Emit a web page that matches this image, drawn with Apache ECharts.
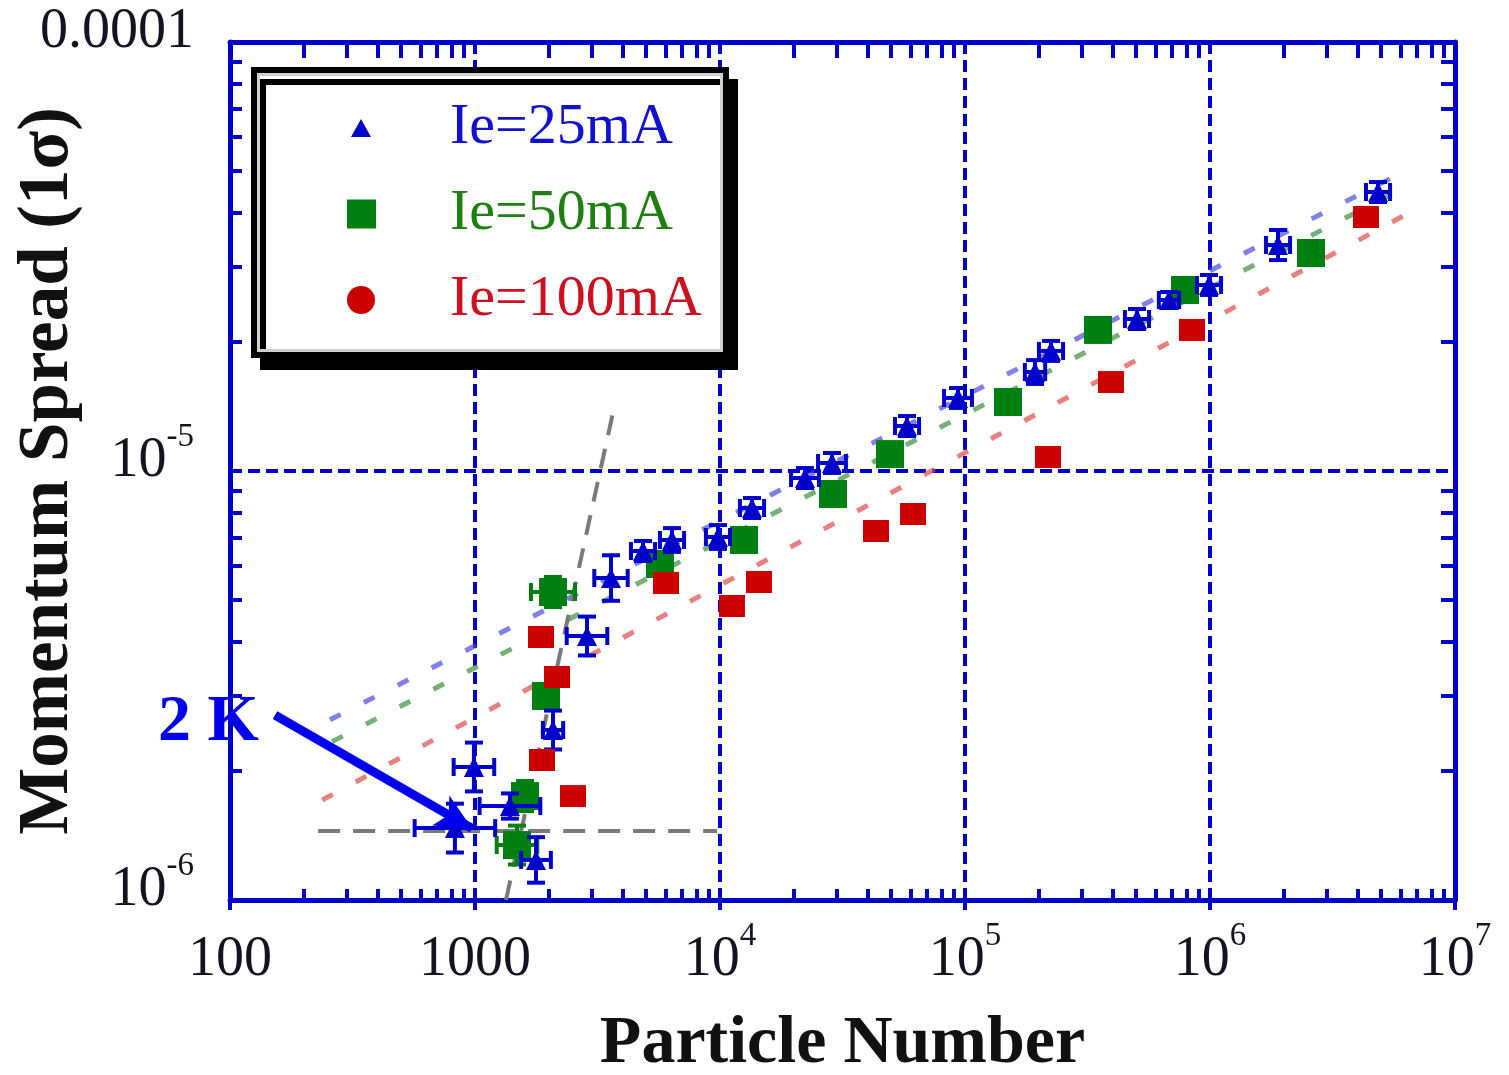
<!DOCTYPE html>
<html>
<head>
<meta charset="utf-8">
<title>Momentum spread vs particle number</title>
<script src="https://cdn.jsdelivr.net/npm/echarts@6/dist/echarts.min.js"></script>
<style>
  html, body { margin: 0; padding: 0; background: #ffffff; }
  #chart { width: 1509px; height: 1075px; }
</style>
</head>
<body>
<div id="chart"></div>
<script>
// ---- measured data -------------------------------------------------------
// Ie = 25 mA : particle number, momentum spread (1 sigma), error factors
const n25 = [828, 990, 1389, 1774, 2082, 2865, 3590, 4850, 6370, 9813, 13510, 22230, 28650,
             57990, 93630, 193100, 224400, 503500, 680200, 990600, 1895000, 4850000];
const dp25 = [1.471e-6, 2.042e-6, 1.656e-6, 1.240e-6, 2.490e-6, 4.124e-6, 5.630e-6, 6.509e-6,
              6.905e-6, 7.017e-6, 8.200e-6, 9.63e-6, 1.044e-5, 1.273e-5, 1.480e-5, 1.701e-5,
              1.905e-5, 2.261e-5, 2.504e-5, 2.714e-5, 3.363e-5, 4.470e-5];
const nErr25 = [1.46, 1.21, 1.33, 1.15, 1.10, 1.21, 1.17, 1.12, 1.12, 1.12, 1.12, 1.14, 1.14,
                1.12, 1.14, 1.10, 1.12, 1.12, 1.10, 1.12, 1.12, 1.12];
const dpErr25 = [1.14, 1.14, 1.07, 1.13, 1.11, 1.11, 1.13, 1.055, 1.066, 1.066, 1.055, 1.055, 1.055,
                 1.055, 1.055, 1.066, 1.055, 1.055, 1.044, 1.055, 1.084, 1.055];

// Ie = 50 mA
const n50 = [1484, 1600, 1949, 2082, 5690, 12530, 28920, 49410, 149800, 349100, 790700, 2584000];
const dp50 = [1.343e-6, 1.747e-6, 2.989e-6, 5.222e-6, 6.070e-6, 6.905e-6, 8.841e-6, 1.095e-5,
              1.448e-5, 2.132e-5, 2.642e-5, 3.222e-5];
const nErr50 = [1.21, 1.0, 1.0, 1.23, 1.0, 1.0, 1.0, 1.0, 1.0, 1.0, 1.0, 1.0];
const dpErr50 = [1.11, 1.084, 1.0, 1.084, 1.0, 1.0, 1.0, 1.0, 1.0, 1.0, 1.0, 1.0];

// Ie = 100 mA
const n100 = [1859, 1877, 2161, 2512, 6020, 11190, 14430, 43320, 61360, 218200, 394400, 844300, 4331000];
const dp100 = [4.103e-6, 2.120e-6, 3.310e-6, 1.747e-6, 5.481e-6, 4.845e-6, 5.512e-6, 7.246e-6,
               7.94e-6, 1.078e-5, 1.612e-5, 2.132e-5, 3.909e-5];

// power-law fits (end points of each dotted line)
const fitN25 = [256, 6430000];   const fitDp25 = [2.63e-6, 5.04e-5];
const fitN50 = [261, 6250000];   const fitDp50 = [2.34e-6, 4.59e-5];
const fitN100 = [238, 6250000];  const fitDp100 = [1.71e-6, 3.95e-5];

// guide lines: steep ordering branch and the 2 K floor
const guideN = [1338, 3693];     const guideDp = [1.0e-6, 1.402e-5];
const floorN = [229, 9723];      const floorDp = [1.448e-6, 1.448e-6];

// annotation arrow (tail, head centre)
const arrowTail = [152.7, 2.698e-6];
const arrowHead = [972, 1.468e-6];

// axis tick labels
const xTickExp = [2, 3, 4, 5, 6, 7];
const xTickText = ['100', '1000', '10^4', '10^5', '10^6', '10^7'];
const yTickExp = [-6, -5, -4];
const yTickText = ['10^-6', '10^-5', '0.0001'];

const seriesNames = ['Ie=25mA', 'Ie=50mA', 'Ie=100mA'];

// ---- styling ---------------------------------------------------------------
const AXIS_BLUE = '#0000cd';
const C25 = '#0000cc';
const C50 = '#008010';
const C100 = '#cc0000';
const SERIF = '"Liberation Serif", "Times New Roman", serif';
const LABEL_COLOR = '#141420';

// minor tick positions 2..9 within each decade
function minorTicks(fromExp, toExp) {
  const out = [];
  for (let e = fromExp; e < toExp; e++) {
    for (let k = 2; k <= 9; k++) out.push(+(k * Math.pow(10, e)).toPrecision(6));
  }
  return out;
}
const xMinor = minorTicks(2, 7);
const yMinor = minorTicks(-6, -4);

function pairs(a, b) { return a.map((v, i) => [v, b[i]]); }
function quads(a, b, c, d) { return a.map((v, i) => [v, b[i], c[i], d[i]]); }

function richTick(t) {
  if (t.indexOf('^') >= 0) {
    const p = t.split('^');
    return '{b|' + p[0] + '}{s|' + p[1] + '}';
  }
  return '{b|' + t + '}';
}
const tickRich = {
  b: { fontFamily: SERIF, fontSize: 56, lineHeight: 80, color: LABEL_COLOR },
  s: { fontFamily: SERIF, fontSize: 33, lineHeight: 33, padding: [0, 0, 47, 0], color: LABEL_COLOR }
};

// error bars with end caps, drawn through the axis scales
function errorBars(params, api) {
  const x = api.value(0), y = api.value(1), fx = api.value(2), fy = api.value(3);
  const color = api.visual('color');
  const st = { stroke: color, lineWidth: 4 };
  const cap = 9;
  const kids = [];
  if (fx > 1) {
    const l = api.coord([x / fx, y]), r = api.coord([x * fx, y]);
    kids.push({ type: 'line', shape: { x1: l[0], y1: l[1], x2: r[0], y2: r[1] }, style: st });
    kids.push({ type: 'line', shape: { x1: l[0], y1: l[1] - cap, x2: l[0], y2: l[1] + cap }, style: st });
    kids.push({ type: 'line', shape: { x1: r[0], y1: r[1] - cap, x2: r[0], y2: r[1] + cap }, style: st });
  }
  if (fy > 1) {
    const t = api.coord([x, y * fy]), b = api.coord([x, y / fy]);
    kids.push({ type: 'line', shape: { x1: t[0], y1: t[1], x2: b[0], y2: b[1] }, style: st });
    kids.push({ type: 'line', shape: { x1: t[0] - cap, y1: t[1], x2: t[0] + cap, y2: t[1] }, style: st });
    kids.push({ type: 'line', shape: { x1: b[0] - cap, y1: b[1], x2: b[0] + cap, y2: b[1] }, style: st });
  }
  return { type: 'group', children: kids };
}

function fitLine(name, xs, ys, color) {
  return {
    name: name, type: 'line', data: pairs(xs, ys), showSymbol: false, silent: true, z: 1,
    lineStyle: { color: color, width: 5, type: [12, 26], opacity: 0.7 }
  };
}

function legendBox(name, top, left, size, pad, color, icon) {
  const item = { name: name };
  if (icon) item.icon = icon;
  return {
    data: [item], orient: 'vertical', left: left, top: top, padding: 0,
    itemWidth: size[0], itemHeight: size[1], selectedMode: false, z: 5,
    textStyle: { fontFamily: SERIF, fontSize: 58, color: color, padding: [0, 0, 0, pad] }
  };
}

const chart = echarts.init(document.getElementById('chart'), null, { renderer: 'canvas' });

const option = {
  animation: false,
  backgroundColor: '#ffffff',
  grid: { left: 230, right: 54, top: 42, bottom: 175, outerBoundsMode: 'none' },
  legend: [
    legendBox(seriesNames[0], 99, 351, [20, 18], 74, '#1010d0'),
    legendBox(seriesNames[1], 185, 347, [29, 29], 69, '#1f7f10'),
    legendBox(seriesNames[2], 271, 347, [28, 28], 70, '#cc1020', 'circle')
  ],
  xAxis: [
    {
      type: 'log', logBase: 10, min: 100, max: 1e7, position: 'bottom',
      name: 'Particle Number', nameLocation: 'middle', nameGap: 110, nameMoveOverlap: false,
      nameTextStyle: { fontFamily: SERIF, fontSize: 68, fontWeight: 'bold', color: '#111' },
      axisLine: { show: true, onZero: false, lineStyle: { color: AXIS_BLUE, width: 5 } },
      axisTick: { show: true, inside: false, length: 10, lineStyle: { color: AXIS_BLUE, width: 4 } },
      axisLabel: {
        margin: 20, showMinLabel: true, showMaxLabel: true, rich: tickRich,
        formatter: v => richTick(xTickText[xTickExp.indexOf(Math.round(Math.log10(v)))] || '')
      },
      splitLine: { show: true, lineStyle: { color: AXIS_BLUE, width: 4, type: [12, 6] } }
    },
    {
      type: 'log', logBase: 10, min: 100, max: 1e7, position: 'bottom',
      axisLine: { show: false },
      axisTick: { show: true, inside: true, length: 11, customValues: xMinor, lineStyle: { color: AXIS_BLUE, width: 4 } },
      axisLabel: { show: false }, splitLine: { show: false }
    },
    {
      type: 'log', logBase: 10, min: 100, max: 1e7, position: 'top',
      axisLine: { show: true, onZero: false, lineStyle: { color: AXIS_BLUE, width: 5 } },
      axisTick: { show: true, inside: true, length: 16, customValues: xMinor, lineStyle: { color: AXIS_BLUE, width: 4 } },
      axisLabel: { show: false }, splitLine: { show: false }
    }
  ],
  yAxis: [
    {
      type: 'log', logBase: 10, min: 1e-6, max: 1e-4, position: 'left',
      name: 'Momentum Spread (1\u03c3)', nameLocation: 'middle', nameRotate: 90, nameGap: 146, nameMoveOverlap: false,
      nameTextStyle: { fontFamily: SERIF, fontSize: 71, fontWeight: 'bold', color: '#111' },
      axisLine: { show: true, onZero: false, lineStyle: { color: AXIS_BLUE, width: 5 } },
      axisTick: { show: false },
      axisLabel: {
        margin: 36, padding: [0, 0, 20, 0], showMinLabel: true, showMaxLabel: true, rich: tickRich,
        formatter: v => richTick(yTickText[yTickExp.indexOf(Math.round(Math.log10(v)))] || '')
      },
      splitLine: { show: true, lineStyle: { color: AXIS_BLUE, width: 4, type: [12, 6] } }
    },
    {
      type: 'log', logBase: 10, min: 1e-6, max: 1e-4, position: 'left',
      axisLine: { show: false },
      axisTick: { show: true, inside: true, length: 12, customValues: yMinor, lineStyle: { color: AXIS_BLUE, width: 4 } },
      axisLabel: { show: false }, splitLine: { show: false }
    },
    {
      type: 'log', logBase: 10, min: 1e-6, max: 1e-4, position: 'right',
      axisLine: { show: true, onZero: false, lineStyle: { color: AXIS_BLUE, width: 5 } },
      axisTick: { show: true, inside: true, length: 14, customValues: yMinor, lineStyle: { color: AXIS_BLUE, width: 4 } },
      axisLabel: { show: false }, splitLine: { show: false }
    }
  ],
  graphic: [
    {
      type: 'rect', z: 3, silent: true,
      shape: { x: 254, y: 70, width: 472, height: 285 },
      style: { fill: '#ffffff', stroke: '#000000', lineWidth: 6, shadowColor: '#000000', shadowOffsetX: 9, shadowOffsetY: 12, shadowBlur: 0 }
    },
    {
      type: 'rect', z: 3, silent: true,
      shape: { x: 258.5, y: 74.5, width: 463, height: 276 },
      style: { fill: 'none', stroke: '#cfcfcf', lineWidth: 3 }
    },
    {
      type: 'text', z: 1, silent: true, left: 158, top: 690,
      style: { text: '2 K', font: 'bold 66px "Liberation Serif", serif', fill: '#0000ee' }
    }
  ],
  series: [
    fitLine('fit25', fitN25, fitDp25, '#4a4ae0'),
    fitLine('fit50', fitN50, fitDp50, '#3d8f3d'),
    fitLine('fit100', fitN100, fitDp100, '#e04a4a'),
    {
      name: 'ordering', type: 'line', data: pairs(guideN, guideDp), showSymbol: false, silent: true, z: 1,
      lineStyle: { color: '#7a7a7a', width: 4, type: [20, 14] }
    },
    {
      name: 'floor', type: 'line', data: pairs(floorN, floorDp), showSymbol: false, silent: true, z: 1,
      lineStyle: { color: '#7a7a7a', width: 4, type: [22, 13] }
    },
    {
      name: 'err50', type: 'custom', renderItem: errorBars, data: quads(n50, dp50, nErr50, dpErr50),
      encode: { x: 0, y: 1 }, itemStyle: { color: C50 }, silent: true, z: 2
    },
    {
      name: seriesNames[1], type: 'scatter', data: pairs(n50, dp50), symbol: 'rect', symbolSize: 28,
      itemStyle: { color: C50, opacity: 1 }, z: 3, silent: true
    },
    {
      name: 'err25', type: 'custom', renderItem: errorBars, data: quads(n25, dp25, nErr25, dpErr25),
      encode: { x: 0, y: 1 }, itemStyle: { color: C25 }, silent: true, z: 4
    },
    {
      name: seriesNames[0], type: 'scatter', data: pairs(n25, dp25), symbol: 'triangle', symbolSize: 20,
      itemStyle: { color: C25, opacity: 1 }, z: 4, silent: true
    },
    {
      name: seriesNames[2], type: 'scatter', data: pairs(n100, dp100), symbol: 'rect', symbolSize: [26, 22],
      itemStyle: { color: C100, opacity: 1 }, z: 5, silent: true
    },
    {
      name: 'arrow', type: 'line', data: [], silent: true, z: 6,
      markLine: {
        silent: true, animation: false,
        symbol: ['none', 'arrow'], symbolSize: [26, 36],
        lineStyle: { color: '#0000ee', width: 9, type: 'solid' },
        itemStyle: { color: '#0000ee' },
        label: { show: false },
        data: [[{ coord: arrowTail }, { coord: arrowHead }]]
      }
    }
  ]
};

chart.setOption(option);
</script>
</body>
</html>
